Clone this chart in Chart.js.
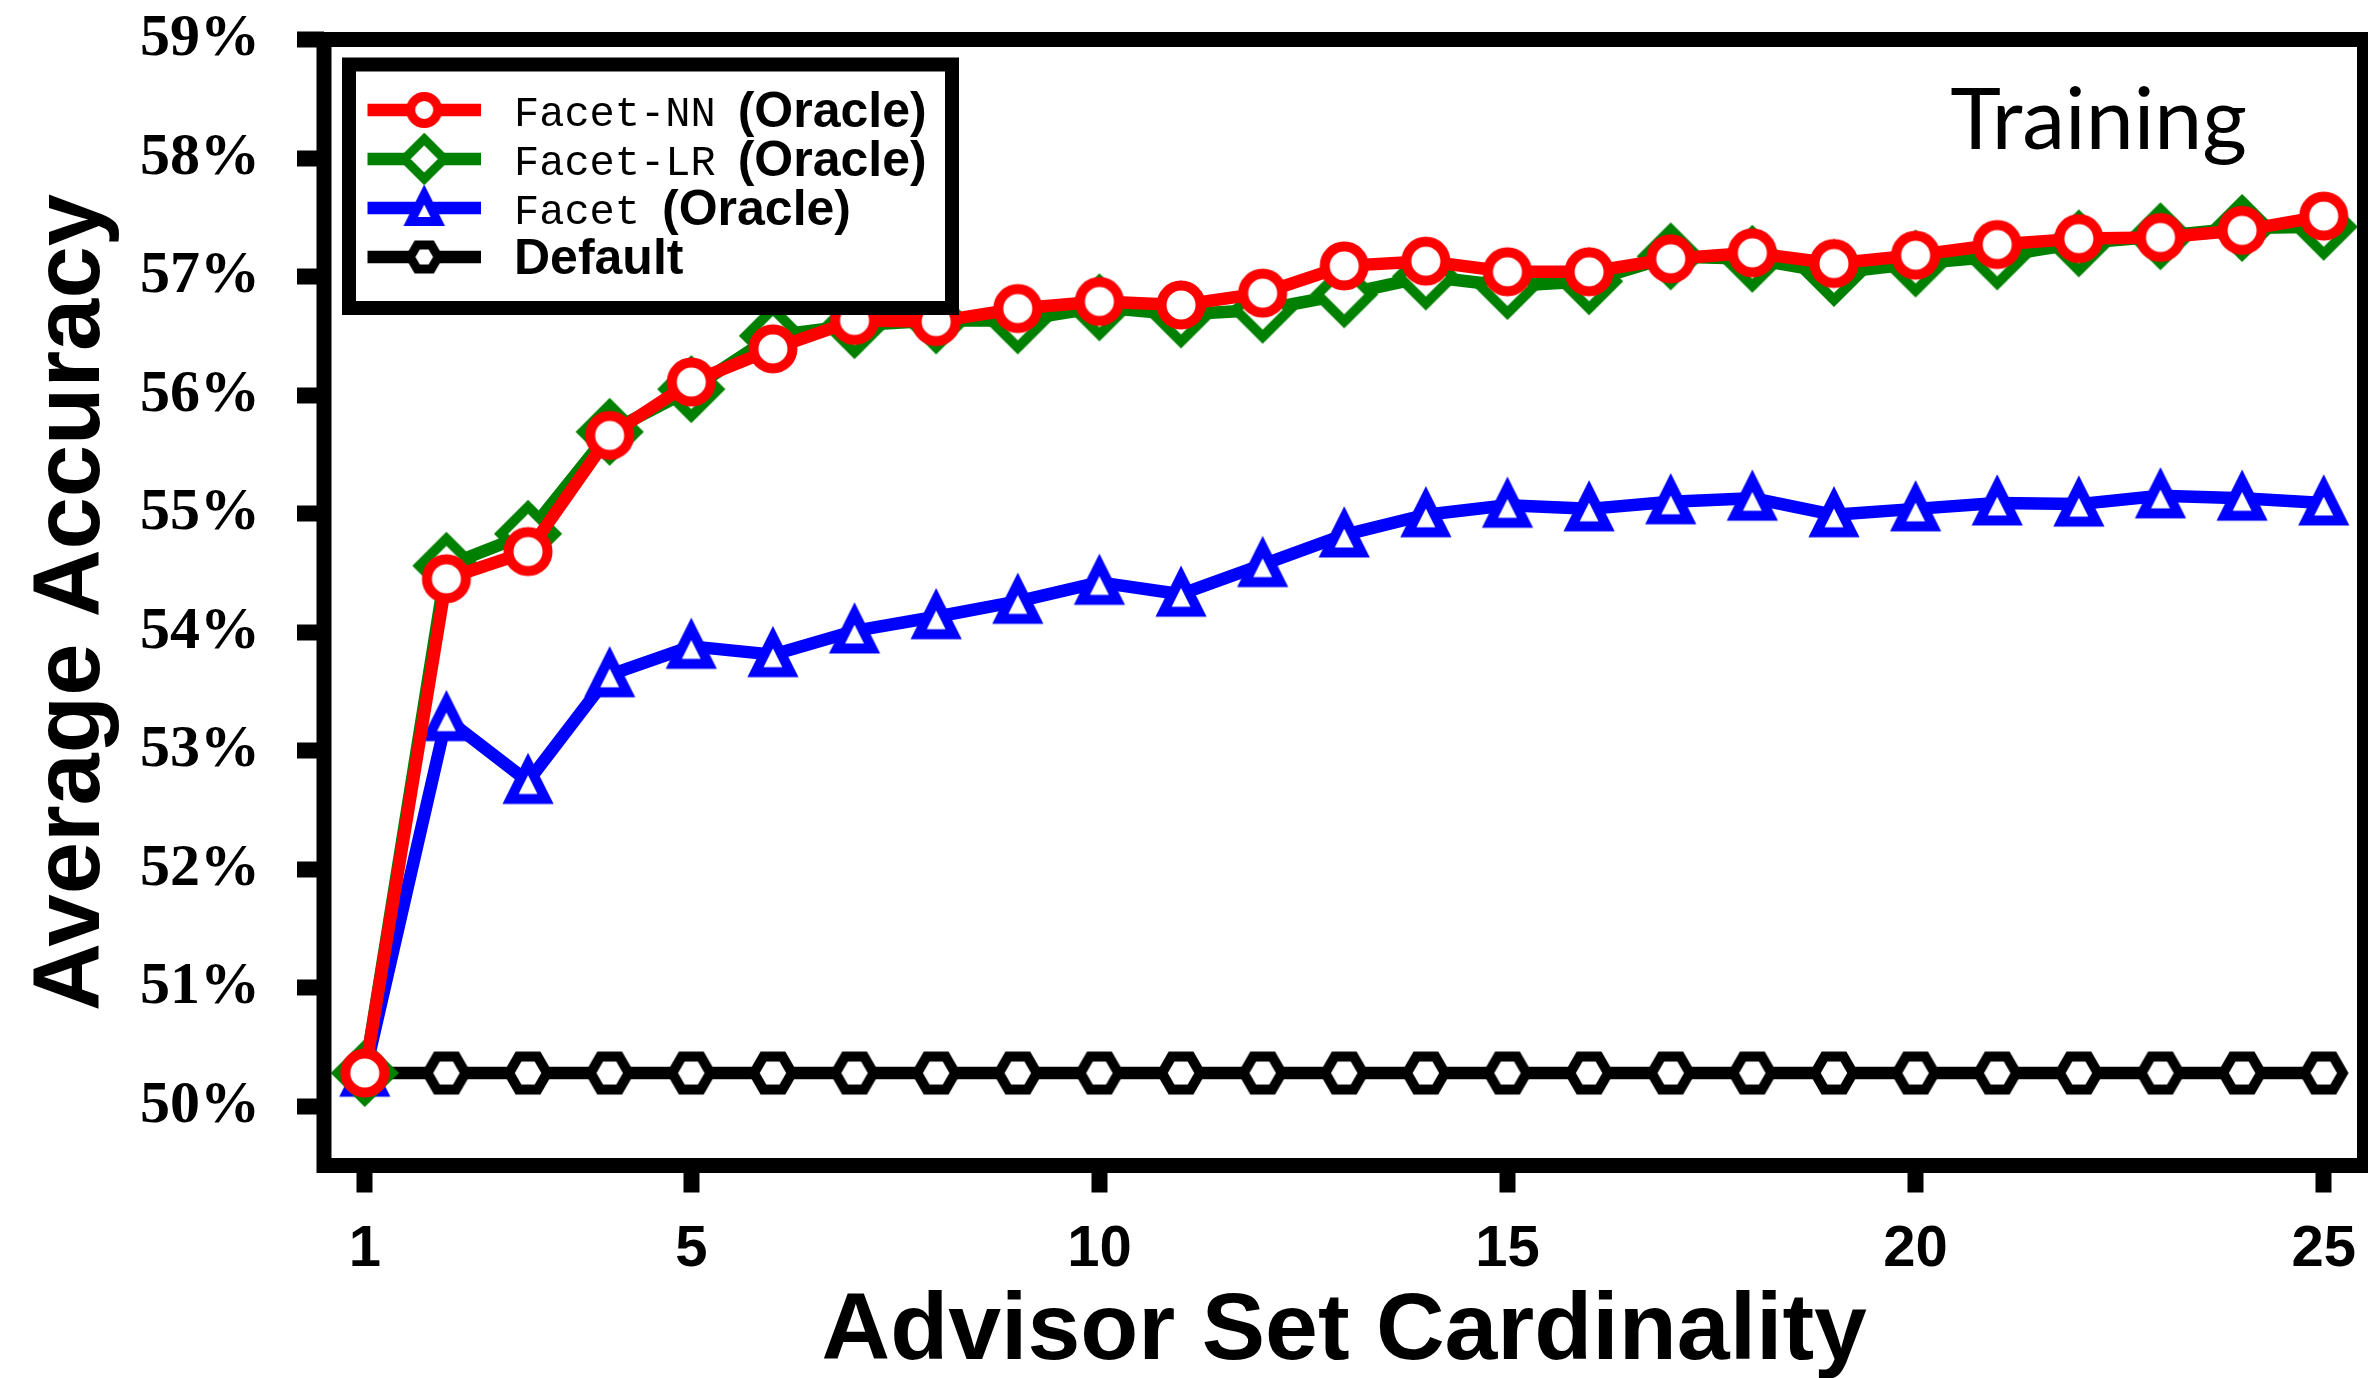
<!DOCTYPE html>
<html>
<head>
<meta charset="utf-8">
<script src="https://cdn.jsdelivr.net/npm/chart.js@4.4.1/dist/chart.umd.min.js"></script>
<style>
  html, body { margin: 0; padding: 0; background: #ffffff; }
  #wrap { width: 2368px; height: 1378px; }
</style>
</head>
<body>
<div id="wrap"><canvas id="c" width="2368" height="1378"></canvas></div>
<script>
// ---------------- data ----------------
const cardinality = [1, 2, 3, 4, 5, 6, 7, 8, 9, 10, 11, 12, 13, 14, 15, 16, 17, 18, 19, 20, 21, 22, 23, 24, 25];
const facetNN = [50.28, 54.45, 54.68, 55.66, 56.11, 56.39, 56.63, 56.62, 56.73, 56.79, 56.76, 56.86, 57.09, 57.13, 57.04, 57.04, 57.15, 57.20, 57.11, 57.18, 57.27, 57.32, 57.33, 57.39, 57.51];
const facetLR = [50.28, 54.56, 54.83, 55.69, 56.05, 56.50, 56.59, 56.63, 56.63, 56.74, 56.68, 56.72, 56.85, 57.00, 56.92, 56.96, 57.17, 57.15, 57.03, 57.11, 57.17, 57.28, 57.34, 57.41, 57.42];
const facet   = [50.27, 53.27, 52.74, 53.64, 53.88, 53.81, 54.01, 54.13, 54.26, 54.42, 54.32, 54.57, 54.82, 54.99, 55.07, 55.04, 55.10, 55.13, 54.99, 55.04, 55.09, 55.08, 55.15, 55.13, 55.09];
const defaultAcc = [50.28, 50.28, 50.28, 50.28, 50.28, 50.28, 50.28, 50.28, 50.28, 50.28, 50.28, 50.28, 50.28, 50.28, 50.28, 50.28, 50.28, 50.28, 50.28, 50.28, 50.28, 50.28, 50.28, 50.28, 50.28];
const xTickValues = [1, 5, 10, 15, 20, 25];
const yTickValues = [50, 51, 52, 53, 54, 55, 56, 57, 58, 59];
const seriesCode = ['Facet-NN', 'Facet-LR', 'Facet', ''];
const seriesSuffix = ['(Oracle)', '(Oracle)', '(Oracle)', 'Default'];
const panelLabel = 'Training';
const xTitle = 'Advisor Set Cardinality';
const yTitle = 'Average Accuracy';

// ---------------- markers ----------------
function makeMarker(shape, color, s, lw) {
  const c = document.createElement('canvas');
  const dim = 2 * Math.ceil(s + lw * 2 + 6);
  c.width = dim; c.height = dim;
  const g = c.getContext('2d');
  const cx = dim / 2, cy = dim / 2;
  g.beginPath();
  if (shape === 'circle') {
    g.arc(cx, cy, s, 0, Math.PI * 2);
  } else if (shape === 'diamond') {
    g.moveTo(cx, cy - s); g.lineTo(cx + s, cy); g.lineTo(cx, cy + s); g.lineTo(cx - s, cy); g.closePath();
  } else if (shape === 'triangle') {
    g.moveTo(cx, cy - s); g.lineTo(cx + s, cy + s); g.lineTo(cx - s, cy + s); g.closePath();
  } else if (shape === 'hexagon') {
    for (let k = 0; k < 6; k++) {
      const a = k * Math.PI / 3;
      const px = cx + s * Math.cos(a), py = cy + s * Math.sin(a);
      if (k === 0) g.moveTo(px, py); else g.lineTo(px, py);
    }
    g.closePath();
  }
  g.fillStyle = '#ffffff';
  g.fill();
  g.lineJoin = 'miter';
  g.miterLimit = 10;
  g.lineWidth = lw;
  g.strokeStyle = color;
  g.stroke();
  return c;
}

const colors = ['#ff0000', '#008000', '#0000ff', '#000000'];
const plotMarkers = [
  makeMarker('circle', colors[0], 19.5, 10),
  makeMarker('diamond', colors[1], 27, 10),
  makeMarker('triangle', colors[2], 17.5, 10),
  makeMarker('hexagon', colors[3], 19, 10)
];
const legendMarkers = [
  makeMarker('circle', colors[0], 13.5, 9),
  makeMarker('diamond', colors[1], 20, 9),
  makeMarker('triangle', colors[2], 13.5, 9),
  makeMarker('hexagon', colors[3], 14, 9)
];

function pts(arr) { return cardinality.map((x, i) => ({ x: x, y: arr[i] })); }
const seriesData = [facetNN, facetLR, facet, defaultAcc];
const seriesLabels = seriesCode.map((c, i) => (c ? c + ' ' : '') + seriesSuffix[i]);

const datasets = seriesData.map((arr, i) => ({
  label: seriesLabels[i],
  data: pts(arr),
  borderColor: colors[i],
  backgroundColor: '#ffffff',
  borderWidth: 12.5,
  borderJoinStyle: 'round',
  borderCapStyle: 'butt',
  pointStyle: plotMarkers[i],
  pointRadius: 20,
  pointHoverRadius: 20,
  tension: 0,
  clip: false
}));

// ---------------- overlay plugin (frame, legend, panel label) ----------------
const overlay = {
  id: 'overlay',
  afterDatasetsDraw(chart) {
    const ctx = chart.ctx;
    const a = chart.chartArea;
    ctx.save();
    // axes frame
    ctx.lineWidth = 15;
    ctx.strokeStyle = '#000';
    ctx.strokeRect(a.left, a.top, a.right - a.left, a.bottom - a.top);

    // legend box
    const bx1 = 349, by1 = 64.5, bx2 = 952, by2 = 308;
    ctx.fillStyle = '#ffffff';
    ctx.fillRect(bx1, by1, bx2 - bx1, by2 - by1);
    ctx.lineWidth = 14;
    ctx.strokeStyle = '#000';
    ctx.lineJoin = 'miter';
    ctx.strokeRect(bx1, by1, bx2 - bx1, by2 - by1);

    const rowY0 = 110, rowStep = 49;
    const lineX1 = 367.5, lineX2 = 481, textX = 514;
    chart.data.datasets.forEach((ds, i) => {
      const y = rowY0 + i * rowStep;
      ctx.beginPath();
      ctx.moveTo(lineX1, y); ctx.lineTo(lineX2, y);
      ctx.lineWidth = 12.7;
      ctx.strokeStyle = ds.borderColor;
      ctx.lineCap = 'butt';
      ctx.stroke();
      const m = legendMarkers[i];
      const mx = (lineX1 + lineX2) / 2;
      ctx.drawImage(m, mx - m.width / 2, y - m.height / 2);
      ctx.fillStyle = '#000';
      ctx.textBaseline = 'alphabetic';
      ctx.textAlign = 'left';
      let x = textX;
      if (seriesCode[i]) {
        ctx.font = '42px "Liberation Mono", "DejaVu Sans Mono", monospace';
        ctx.fillText(seriesCode[i], x, y + 16);
        x += ctx.measureText(seriesCode[i]).width + 22;
      }
      ctx.font = 'bold 50px "Liberation Sans", Arial, sans-serif';
      ctx.fillText(seriesSuffix[i], x, y + 17);
    });

    // panel label
    ctx.font = '86px Lato, "Liberation Sans", sans-serif';
    ctx.textAlign = 'right';
    ctx.textBaseline = 'alphabetic';
    ctx.fillStyle = '#000';
    ctx.fillText(panelLabel, 2247, 149);
    ctx.restore();
  }
};

function noPad(s) { s.paddingTop = 0; s.paddingBottom = 0; s.paddingLeft = 0; s.paddingRight = 0; }

// ---------------- chart ----------------
new Chart(document.getElementById('c'), {
  type: 'line',
  data: { datasets: datasets },
  options: {
    responsive: false,
    devicePixelRatio: 1,
    animation: false,
    events: [],
    layout: { autoPadding: false, padding: { top: 39.5, right: 3.5, left: 0, bottom: 0 } },
    plugins: { legend: { display: false }, tooltip: { enabled: false }, title: { display: false } },
    scales: {
      x: {
        type: 'linear',
        min: 0.5,
        max: 25.5,
        afterBuildTicks: (s) => { s.ticks = xTickValues.map(v => ({ value: v })); },
        afterFit: (s) => { s.height = 212.5; noPad(s); },
        ticks: {
          autoSkip: false,
          maxRotation: 0,
          padding: 22.7,
          color: '#000',
          font: { family: '"Liberation Sans", Arial, sans-serif', weight: 'bold', size: 58, lineHeight: 1.2 },
          callback: (v) => String(v)
        },
        grid: { display: true, drawOnChartArea: false, drawTicks: true, tickLength: 27, tickWidth: 16, tickColor: '#000' },
        border: { display: false },
        title: {
          display: true,
          text: xTitle,
          color: '#000',
          padding: 0,
          font: { family: '"Liberation Sans", Arial, sans-serif', weight: 'bold', size: 95, lineHeight: 0.947 }
        }
      },
      y: {
        type: 'linear',
        min: 49.5,
        max: 59,
        afterBuildTicks: (s) => { s.ticks = yTickValues.map(v => ({ value: v })); },
        afterFit: (s) => { s.width = 324; noPad(s); },
        ticks: {
          autoSkip: false,
          padding: 37,
          color: '#000',
          font: { family: '"Liberation Serif", "DejaVu Serif", serif', weight: 'bold', size: 60, lineHeight: 1.2 },
          callback: (v) => v + '%'
        },
        grid: { display: true, drawOnChartArea: false, drawTicks: true, tickLength: 27, tickWidth: 16, tickColor: '#000' },
        border: { display: false },
        title: {
          display: true,
          text: yTitle,
          color: '#000',
          padding: { top: 17, bottom: 0 },
          font: { family: '"Liberation Sans", Arial, sans-serif', weight: 'bold', size: 94, lineHeight: 1.2 }
        }
      }
    }
  },
  plugins: [overlay]
});
</script>
</body>
</html>
